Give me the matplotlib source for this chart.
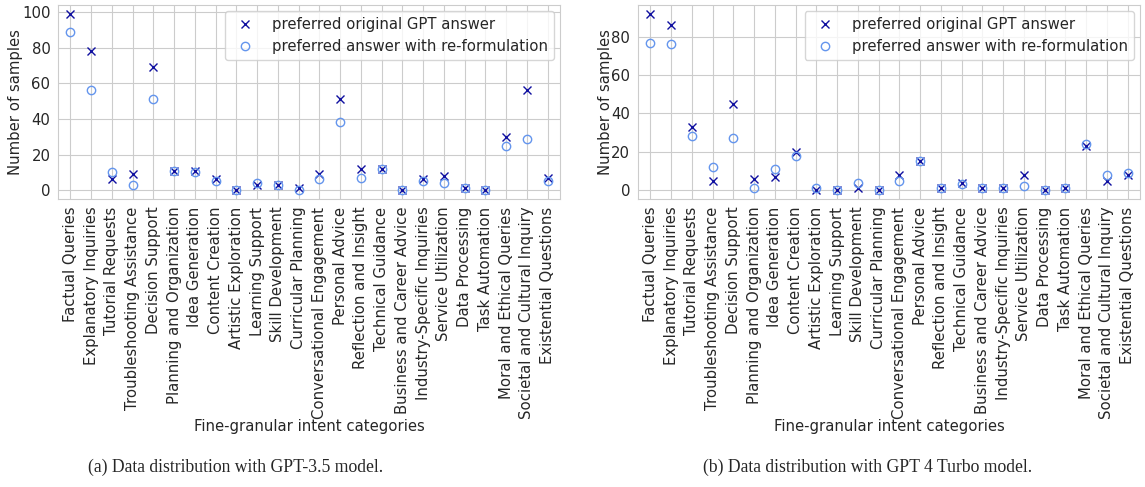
import numpy as np
import matplotlib.pyplot as plt
import seaborn as sns

categorias = ["Factual Queries", "Explanatory Inquiries", "Tutorial Requests",
              "Troubleshooting Assistance", "Decision Support", "Planning and Organization",
              "Idea Generation", "Content Creation", "Artistic Exploration",
              "Learning Support", "Skill Development", "Curricular Planning",
              "Conversational Engagement", "Personal Advice", "Reflection and Insight",
              "Technical Guidance", "Business and Career Advice", "Industry-Specific Inquiries",
              "Service Utilization", "Data Processing", "Task Automation",
              "Moral and Ethical Queries", "Societal and Cultural Inquiry", "Existential Questions"]

# GPT-3.5
original_35 = [99, 78, 6, 9, 69, 11, 11, 6, 0, 3, 3, 1, 9, 51, 12, 12, 0, 6, 8, 1, 0, 30, 56, 7]
reform_35 = [89, 56, 10, 3, 51, 11, 10, 5, 0, 4, 3, 0, 6, 38, 7, 12, 0, 5, 4, 1, 0, 25, 29, 5]

# GPT 4 Turbo
original_4t = [92, 86, 33, 5, 45, 6, 7, 20, 0, 0, 1, 0, 8, 15, 1, 4, 1, 1, 8, 0, 1, 23, 5, 8]
reform_4t = [77, 76, 28, 12, 27, 1, 11, 18, 1, 0, 4, 0, 5, 15, 1, 3, 1, 1, 2, 0, 1, 24, 8, 9]

titulos = ["(a) Data distribution with GPT-3.5 model.",
           "(b) Data distribution with GPT 4 Turbo model."]

sns.set_style("whitegrid")
plt.rcParams['font.family'] = ['DejaVu Sans']

fs = 10.7
fig = plt.figure(figsize=(11.45, 4.87), dpi=100)
ax1 = fig.add_axes([0.0507, 0.5914, 0.4384, 0.3984])
ax2 = fig.add_axes([0.5572, 0.5914, 0.4384, 0.3984])

x = np.arange(len(categorias))
for ax, orig, ref, titulo, cx in [(ax1, original_35, reform_35, titulos[0], 0.206),
                                  (ax2, original_4t, reform_4t, titulos[1], 0.758)]:
    ax.plot(x, orig, linestyle='', marker='x', color='#1010a0', markersize=6,
            markeredgewidth=1.0, label='preferred original GPT answer')
    ax.plot(x, ref, linestyle='', marker='o', markerfacecolor='none',
            markeredgecolor='#6495ed', markersize=6, markeredgewidth=1.0,
            label='preferred answer with re-formulation')
    ax.set_xticks(x)
    ax.set_xticklabels(categorias, rotation=90, fontsize=fs)
    ax.tick_params(axis='y', labelsize=fs, pad=2)
    ax.tick_params(axis='x', pad=2)
    ax.set_xlim(-0.6, len(categorias) - 0.4)
    ax.set_ylabel('Number of samples', fontsize=fs, labelpad=-1)
    ax.set_xlabel('Fine-granular intent categories', fontsize=fs, labelpad=0)
    ax.legend(loc='upper right', fontsize=fs, handletextpad=0.8, borderaxespad=0.4)
    fig.text(cx, 0.041, titulo, ha='center', va='center', fontsize=12.7,
             family='Liberation Serif')

fig.savefig('out.png', dpi=100)
